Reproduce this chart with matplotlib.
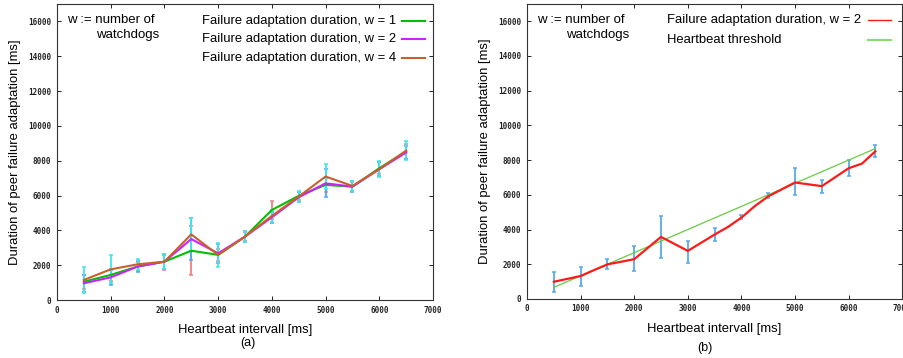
import matplotlib
matplotlib.use('Agg')
import matplotlib.pyplot as plt

plt.rcParams['font.family'] = ['Liberation Sans', 'DejaVu Sans']

# heartbeat intervals [ms]
hb = [500, 1000, 1500, 2000, 2500, 3000, 3500, 4000, 4500, 5000, 5500, 6000, 6500]

# (a) failure adaptation duration per number of watchdogs
w1 = [1050, 1440, 1920, 2200, 2830, 2590, 3640, 5170, 5980, 6610, 6510, 7570, 8530]
w2 = [960, 1300, 1920, 2200, 3500, 2680, 3640, 4750, 5900, 6700, 6510, 7510, 8470]
w4 = [1150, 1760, 2050, 2200, 3770, 2590, 3640, 4830, 5940, 7090, 6550, 7510, 8580]
w1_err = [400, 350, 250, 450, 1400, 350, 250, 500, 250, 400, 250, 350, 450]
w2_err = [500, 450, 300, 400, 1200, 550, 300, 300, 300, 800, 300, 400, 350]
w4_err = [750, 800, 300, 400, 950, 700, 300, 350, 300, 700, 300, 450, 550]

# (b) w = 2 run, finer sampled line + error bars at the 500 ms steps
b_x = [500, 1000, 1250, 1500, 2000, 2500, 3000, 3500, 3750, 4000, 4250, 4500,
       5000, 5500, 6000, 6250, 6500]
b_y = [990, 1320, 1660, 1990, 2290, 3575, 2770, 3710, 4150, 4685, 5350, 5910,
       6710, 6500, 7530, 7800, 8510]
b_lo = [420, 765, 1700, 1625, 2330, 2045, 3310, 4590, 5830, 5970, 6120, 7090, 8200]
b_hi = [1570, 1820, 2280, 3040, 4760, 3365, 4090, 4860, 6120, 7550, 6880, 7990, 8870]
b_mid = [990, 1320, 1990, 2290, 3575, 2770, 3710, 4685, 5910, 6710, 6500, 7530, 8510]
thr_x = [500, 6500]
thr_y = [667, 8667]

fig = plt.figure(figsize=(9.04, 3.58), dpi=100)
axa = fig.add_axes([0.063, 0.162, 0.416, 0.827])
axb = fig.add_axes([0.583, 0.165, 0.415, 0.824])

FS = 9.4


def style(ax):
    ax.set_xlim(0, 7000)
    ax.set_ylim(0, 17000)
    ax.set_xticks(range(0, 7001, 1000))
    ax.set_yticks(range(0, 16001, 2000))
    ax.tick_params(direction='in', length=3, width=0.7, top=True, right=True,
                   pad=4, colors='#222222')
    for lab in ax.get_xticklabels() + ax.get_yticklabels():
        lab.set_fontfamily('DejaVu Sans Mono')
        lab.set_fontweight('bold')
        lab.set_fontsize(5.5)
    for sp in ax.spines.values():
        sp.set_linewidth(0.8)
        sp.set_color('#333333')
    ax.set_xlabel('Heartbeat intervall [ms]', fontsize=FS, labelpad=7)
    ax.set_ylabel('Duration of peer failure adaptation [ms]', fontsize=FS, labelpad=5)
    ax.text(0.027, 0.946, 'w := number of', transform=ax.transAxes, fontsize=9.5,
            va='center', ha='left')
    ax.text(0.104, 0.895, 'watchdogs', transform=ax.transAxes, fontsize=9.5,
            va='center', ha='left')


# ---- (a)
style(axa)
ek = dict(fmt='none', capsize=1.6, elinewidth=1.3, capthick=1.1, zorder=2)
axa.errorbar(hb, w1, yerr=w1_err, ecolor='#f08080', **ek)
axa.errorbar(hb, w2, yerr=w2_err, ecolor='#4da6ff', **ek)
axa.errorbar(hb, w4, yerr=w4_err, ecolor='#40e8e8', **ek)
axa.plot(hb, w1, color='#00c000', lw=1.5, zorder=3)
axa.plot(hb, w2, color='#cc22ff', lw=1.5, zorder=3)
axa.plot(hb, w4, color='#c8602a', lw=1.5, zorder=4)

keys_a = [('Failure adaptation duration, w = 1', '#00c000'),
          ('Failure adaptation duration, w = 2', '#cc22ff'),
          ('Failure adaptation duration, w = 4', '#c8602a')]
for i, (lab, col) in enumerate(keys_a):
    yy = 0.941 - i * 0.061
    axa.text(0.902, yy, lab, transform=axa.transAxes, fontsize=FS,
             ha='right', va='center')
    axa.plot([0.918, 0.979], [yy, yy], transform=axa.transAxes, color=col, lw=1.5)

# ---- (b)
style(axb)
b_err = [[m - lo for m, lo in zip(b_mid, b_lo)], [hi - m for m, hi in zip(b_mid, b_hi)]]
axb.errorbar(hb, b_mid, yerr=b_err, ecolor='#55aaee', **ek)
axb.plot(thr_x, thr_y, color='#66cc44', lw=0.9, zorder=3)
axb.plot(b_x, b_y, color='#ff1a1a', lw=1.6, zorder=4)

keys_b = [('Failure adaptation duration, w = 2', '#ff1a1a', 1.0),
          ('Heartbeat threshold', '#88dd77', 1.5)]
for i, (lab, col, lw) in enumerate(keys_b):
    yy = 0.947 - i * 0.068
    axb.text(0.373, yy, lab, transform=axb.transAxes, fontsize=FS,
             ha='left', va='center')
    axb.plot([0.909, 0.971], [yy, yy], transform=axb.transAxes, color=col, lw=lw)

fig.text(248 / 904, 1 - 343 / 358, '(a)', fontsize=9, ha='center', va='center')
fig.text(705 / 904, 1 - 348 / 358, '(b)', fontsize=9, ha='center', va='center')

fig.savefig('out.png', dpi=100)
